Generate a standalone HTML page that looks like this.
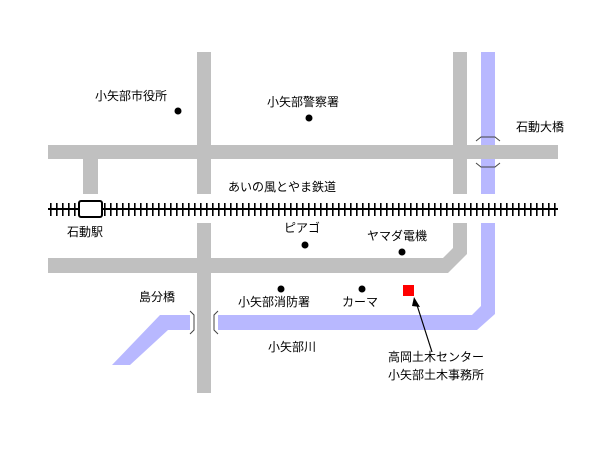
<!DOCTYPE html>
<html><head><meta charset="utf-8"><style>
html,body{margin:0;padding:0;background:#fff;}
svg text{font-family:"Liberation Sans","Noto Sans CJK JP",sans-serif;font-size:12px;fill:#000;}
</style></head><body>
<svg width="605" height="454" viewBox="0 0 605 454" xmlns="http://www.w3.org/2000/svg">
<defs>
<pattern id="ticks" x="0" y="0" width="6" height="20" patternUnits="userSpaceOnUse">
<rect x="2" y="3" width="1.6" height="13" fill="#000"/>
</pattern>
</defs>
<!-- river -->
<g fill="#b8b8ff">
<rect x="481" y="52" width="14" height="142"/>
<polygon points="481,223 495,223 495,314 477,330 218,330 218,315 472,315 481,306"/>
<polygon points="190,315 190,330 168,330 130,365 112,365 160,315"/>
</g>
<!-- roads -->
<g fill="#c0c0c0">
<rect x="48" y="145" width="510" height="14"/>
<rect x="197" y="52" width="14" height="142"/>
<rect x="197" y="223" width="14" height="170"/>
<rect x="83" y="159" width="15" height="35"/>
<rect x="453" y="52" width="14" height="142"/>
<polygon points="48,258 443,258 453,248 453,223 467,223 467,254 448,273 48,273"/>
</g>
<!-- bridges -->
<g fill="none" stroke="#444" stroke-width="1">
<path d="M476,141 l5,-4 h14 l5,4"/>
<path d="M476,163 l5,4 h14 l5,-4"/>
<path d="M190,311 l4,4 v15 l-4,4"/>
<path d="M218,311 l-4,4 v15 l4,4"/>
</g>
<!-- railway -->
<rect x="48" y="208" width="510" height="2" fill="#000"/>
<rect x="48" y="200" width="510" height="18" fill="url(#ticks)"/>
<rect x="79" y="201" width="23" height="16" rx="2" fill="#fff" stroke="#000" stroke-width="2"/>
<!-- dots -->
<g fill="#000">
<circle cx="178" cy="111" r="3.5"/>
<circle cx="309" cy="118" r="3.5"/>
<circle cx="305" cy="245" r="3.5"/>
<circle cx="402" cy="252" r="3.5"/>
<circle cx="281" cy="289" r="3.5"/>
<circle cx="362" cy="289" r="3.5"/>
</g>
<rect x="403" y="285" width="11" height="11" fill="#f00"/>
<!-- arrow -->
<line x1="432" y1="352" x2="416" y2="302" stroke="#000" stroke-width="1.2"/>
<polygon points="414,297 420,307 412,306" fill="#000"/>
<!-- labels -->
<text x="95" y="100">小矢部市役所</text>
<text x="267" y="106">小矢部警察署</text>
<text x="516" y="131">石動大橋</text>
<text x="228" y="191">あいの風とやま鉄道</text>
<text x="67" y="236">石動駅</text>
<text x="284" y="232">ピアゴ</text>
<text x="367" y="240">ヤマダ電機</text>
<text x="139" y="301">島分橋</text>
<text x="238" y="306">小矢部消防署</text>
<text x="342" y="306">カーマ</text>
<text x="268" y="351">小矢部川</text>
<text x="388" y="361">高岡土木センター</text>
<text x="388" y="379">小矢部土木事務所</text>
</svg>
</body></html>
